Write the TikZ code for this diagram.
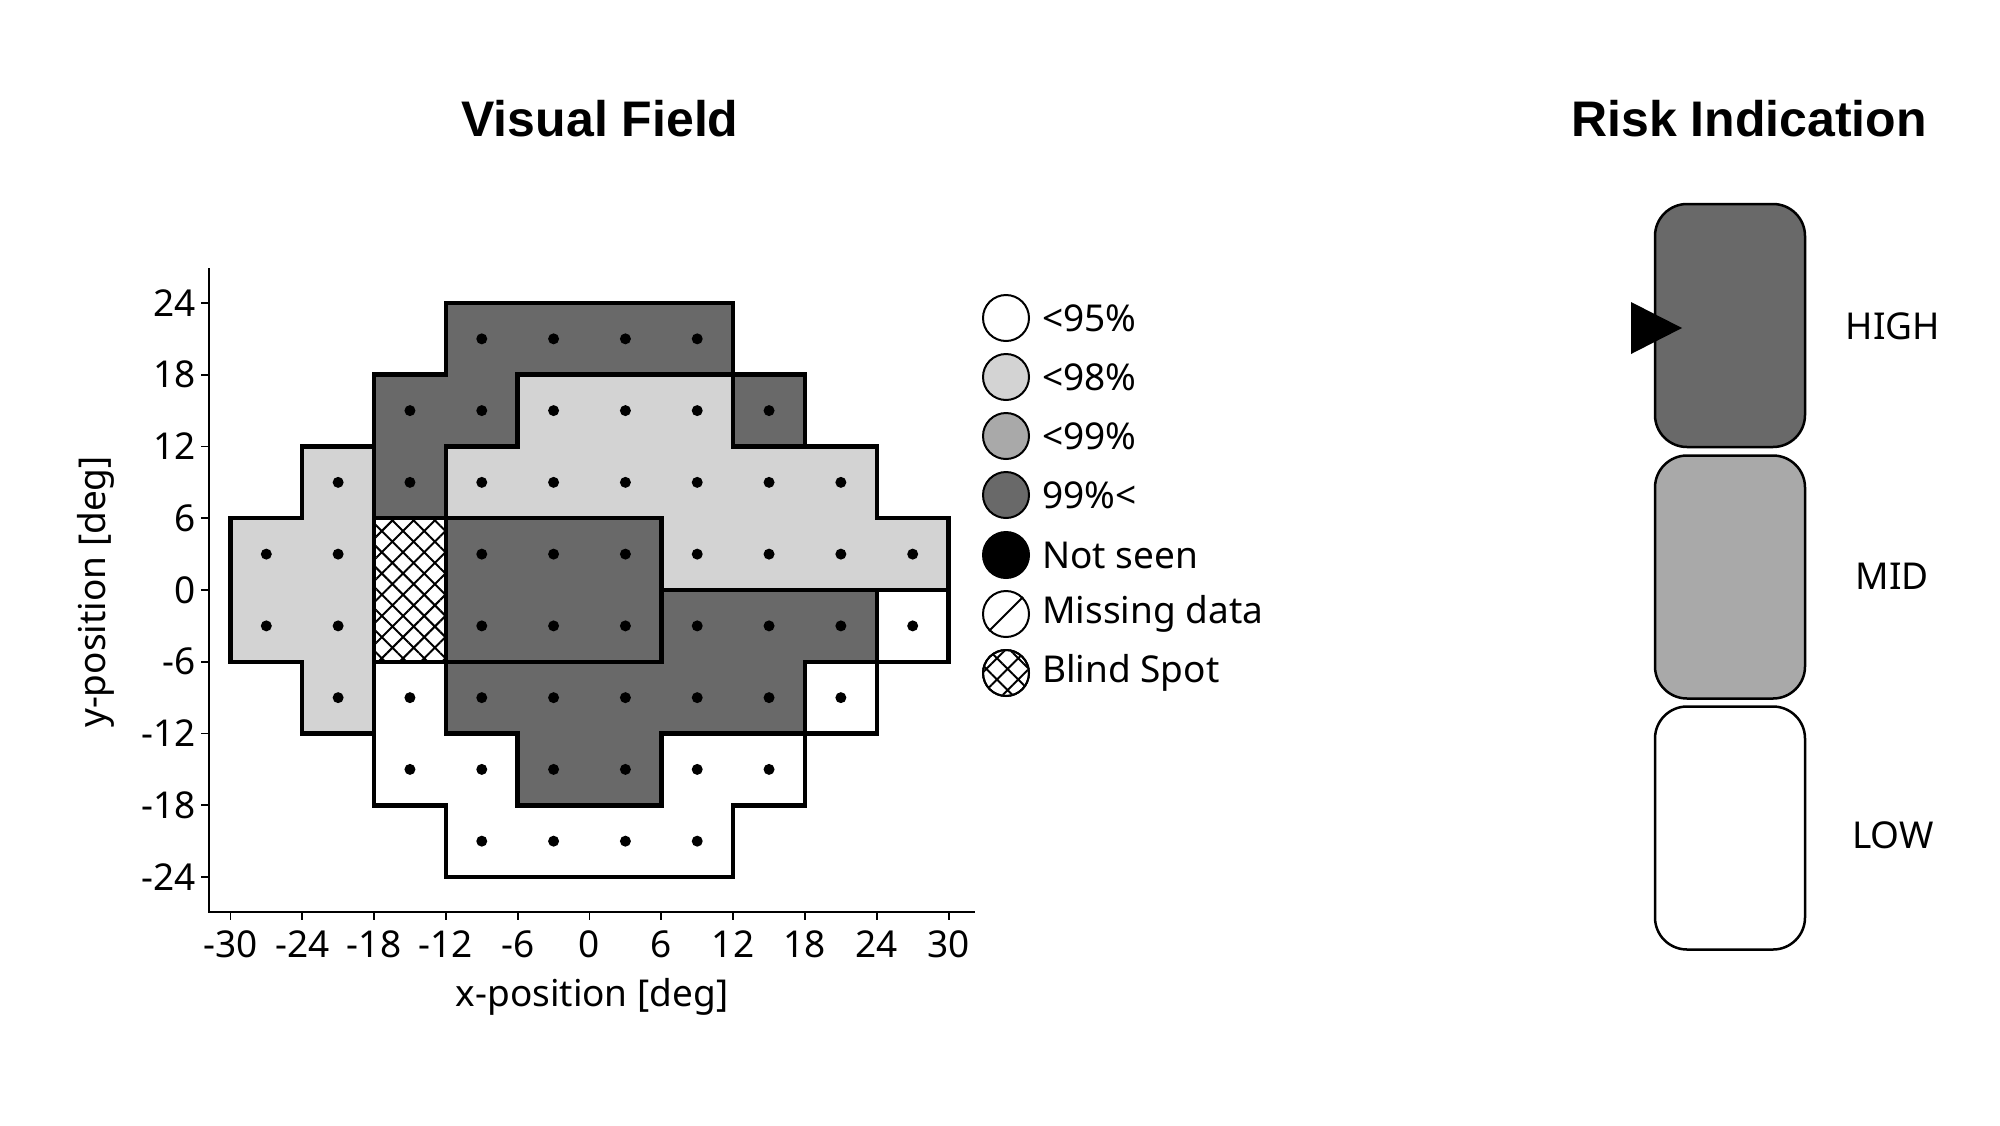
\documentclass[tikz,border=0pt]{standalone}
\usepackage{fontspec}
\setmainfont{Noto Sans}
\newfontfamily\titlefont{Liberation Sans}
\usetikzlibrary{patterns.meta}
\definecolor{darkfld}{HTML}{696969}
\definecolor{lightfld}{HTML}{D3D3D3}
\definecolor{midfld}{HTML}{A9A9A9}
\begin{document}
\begin{tikzpicture}[x=1pt,y=1pt,
  every node/.style={font=\fontsize{37}{44}\selectfont},
  region/.style={draw,line width=4.5pt,line join=miter},
  blind/.style={pattern={Hatch[angle=45,distance=15pt,line width=2pt]}},
  legdot/.style={draw,circle,line width=2pt,minimum size=46pt,inner sep=0pt},
  riskbox/.style={draw,line width=2.5pt,rounded corners=32pt}]
\useasboundingbox (0,0) rectangle (2000,-1125);
\node[font=\fontsize{50}{60}\titlefont\bfseries] (tvf) at (600,-119) {Visual Field};
\node[font=\fontsize{50}{60}\titlefont\bfseries] (tri) at (1749,-119) {Risk Indication};
% field
\begin{scope}[shift={(589.5,-590)},x=11.97pt,y=11.96pt]
\fill[darkfld] (-12,24) -- (12,24) -- (12,18) -- (-6,18) -- (-6,12) -- (-12,12) -- (-12,6) -- (-18,6) -- (-18,18) -- (-12,18) -- cycle;
\fill[darkfld] (12,12) rectangle (18,18);
\fill[lightfld] (-6,18) -- (12,18) -- (12,12) -- (24,12) -- (24,6) -- (30,6) -- (30,0) -- (6,0) -- (6,6) -- (-12,6) -- (-12,12) -- (-6,12) -- cycle;
\fill[lightfld] (-24,12) -- (-18,12) -- (-18,-12) -- (-24,-12) -- (-24,-6) -- (-30,-6) -- (-30,6) -- (-24,6) -- cycle;
\fill[darkfld] (-12,-6) rectangle (6,6);
\fill[darkfld] (6,0) -- (24,0) -- (24,-6) -- (18,-6) -- (18,-12) -- (6,-12) -- (6,-18) -- (-6,-18) -- (-6,-12) -- (-12,-12) -- (-12,-6) -- (6,-6) -- cycle;
\fill[white] (24,-6) rectangle (30,0);
\fill[white] (18,-12) rectangle (24,-6);
\fill[white] (-18,-6) -- (-12,-6) -- (-12,-12) -- (-6,-12) -- (-6,-18) -- (6,-18) -- (6,-12) -- (18,-12) -- (18,-18) -- (12,-18) -- (12,-24) -- (-12,-24) -- (-12,-18) -- (-18,-18) -- cycle;
\fill[white] (-18,-6) rectangle (-12,6);
\path[blind] (-18,-6) rectangle (-12,6);
% outlines
\draw[region] (-12,24) -- (12,24) -- (12,18) -- (-6,18) -- (-6,12) -- (-12,12) -- (-12,6) -- (-18,6) -- (-18,18) -- (-12,18) -- cycle;
\draw[region] (12,12) rectangle (18,18);
\draw[region] (-6,18) -- (12,18) -- (12,12) -- (24,12) -- (24,6) -- (30,6) -- (30,0) -- (6,0) -- (6,6) -- (-12,6) -- (-12,12) -- (-6,12) -- cycle;
\draw[region] (-24,12) -- (-18,12) -- (-18,-12) -- (-24,-12) -- (-24,-6) -- (-30,-6) -- (-30,6) -- (-24,6) -- cycle;
\draw[region] (-12,-6) rectangle (6,6);
\draw[region] (6,0) -- (24,0) -- (24,-6) -- (18,-6) -- (18,-12) -- (6,-12) -- (6,-18) -- (-6,-18) -- (-6,-12) -- (-12,-12) -- (-12,-6) -- (6,-6) -- cycle;
\draw[region] (24,-6) rectangle (30,0);
\draw[region] (18,-12) rectangle (24,-6);
\draw[region] (-18,-6) -- (-12,-6) -- (-12,-12) -- (-6,-12) -- (-6,-18) -- (6,-18) -- (6,-12) -- (18,-12) -- (18,-18) -- (12,-18) -- (12,-24) -- (-12,-24) -- (-12,-18) -- (-18,-18) -- cycle;
\draw[region] (-18,-6) rectangle (-12,6);
% test points
\foreach \yy/\xs in {21/{-9,-3,3,9}, 15/{-15,-9,-3,3,9,15}, 9/{-21,-15,-9,-3,3,9,15,21},
  3/{-27,-21,-9,-3,3,9,15,21,27}, -3/{-27,-21,-9,-3,3,9,15,21,27},
  -9/{-21,-15,-9,-3,3,9,15,21}, -15/{-15,-9,-3,3,9,15}, -21/{-9,-3,3,9}}
  \foreach \xx in \xs
    \fill (\xx,\yy) circle[radius=5.5pt];
% axes
\coordinate (ytop) at (-31.8,26.9);
\coordinate (orig) at (-31.8,-26.9);
\coordinate (xend) at (32.2,-26.9);
\draw[line width=1.8pt] (ytop) -- (orig) -- (xend);
\foreach \v in {-30,-24,...,30}
  \draw[line width=1.8pt] (\v,-26.9) -- ++(0,-8pt) node[below=9pt,inner sep=1pt] (xt\v) {\v};
\foreach \v in {-24,-18,...,24}
  \draw[line width=1.8pt] (-31.8,\v) -- ++(-8pt,0) node[left=3pt,inner sep=1pt] (yt\v) {\v};
\end{scope}
\node (xlab) at (592,-997) {x-position [deg]};
\node[rotate=90] (ylab) at (96,-592) {y-position [deg]};
% legend
\foreach \n/\c/\t/\yy in {a/white/{<95\%}/318, b/lightfld/{<98\%}/377, c/midfld/{<99\%}/436,
  d/darkfld/{99\%<}/495, e/black/{Not seen}/555, f/white/{Missing data}/614, g/white/{Blind Spot}/673}
{
  \node[legdot,fill=\c] (leg\n) at (1006,-\yy) {};
  \node[anchor=west,inner sep=0pt] (legt\n) at (1042,-\yy) {\t};
}
\draw[line width=2pt] (legf.south west) -- (legf.north east);
\path[blind] (legg.center) circle[radius=22pt];
\node[legdot] (leggb) at (legg.center) {};
% risk
\node[riskbox,fill=darkfld,minimum width=150pt,minimum height=243pt] (high) at (1730,-325.5) {};
\node[riskbox,fill=midfld,minimum width=150pt,minimum height=243pt] (mid) at (1730,-577) {};
\node[riskbox,fill=white,minimum width=150pt,minimum height=243pt] (low) at (1730,-828) {};
\node (thigh) at (1893,-326) {HIGH};
\node (tmid) at (1892,-576) {MID};
\node (tlow) at (1893,-835) {LOW};
\coordinate (tip) at (1682,-328);
\fill (tip) -- (1631,-302) -- (1631,-354) -- cycle;
\end{tikzpicture}
\end{document}
